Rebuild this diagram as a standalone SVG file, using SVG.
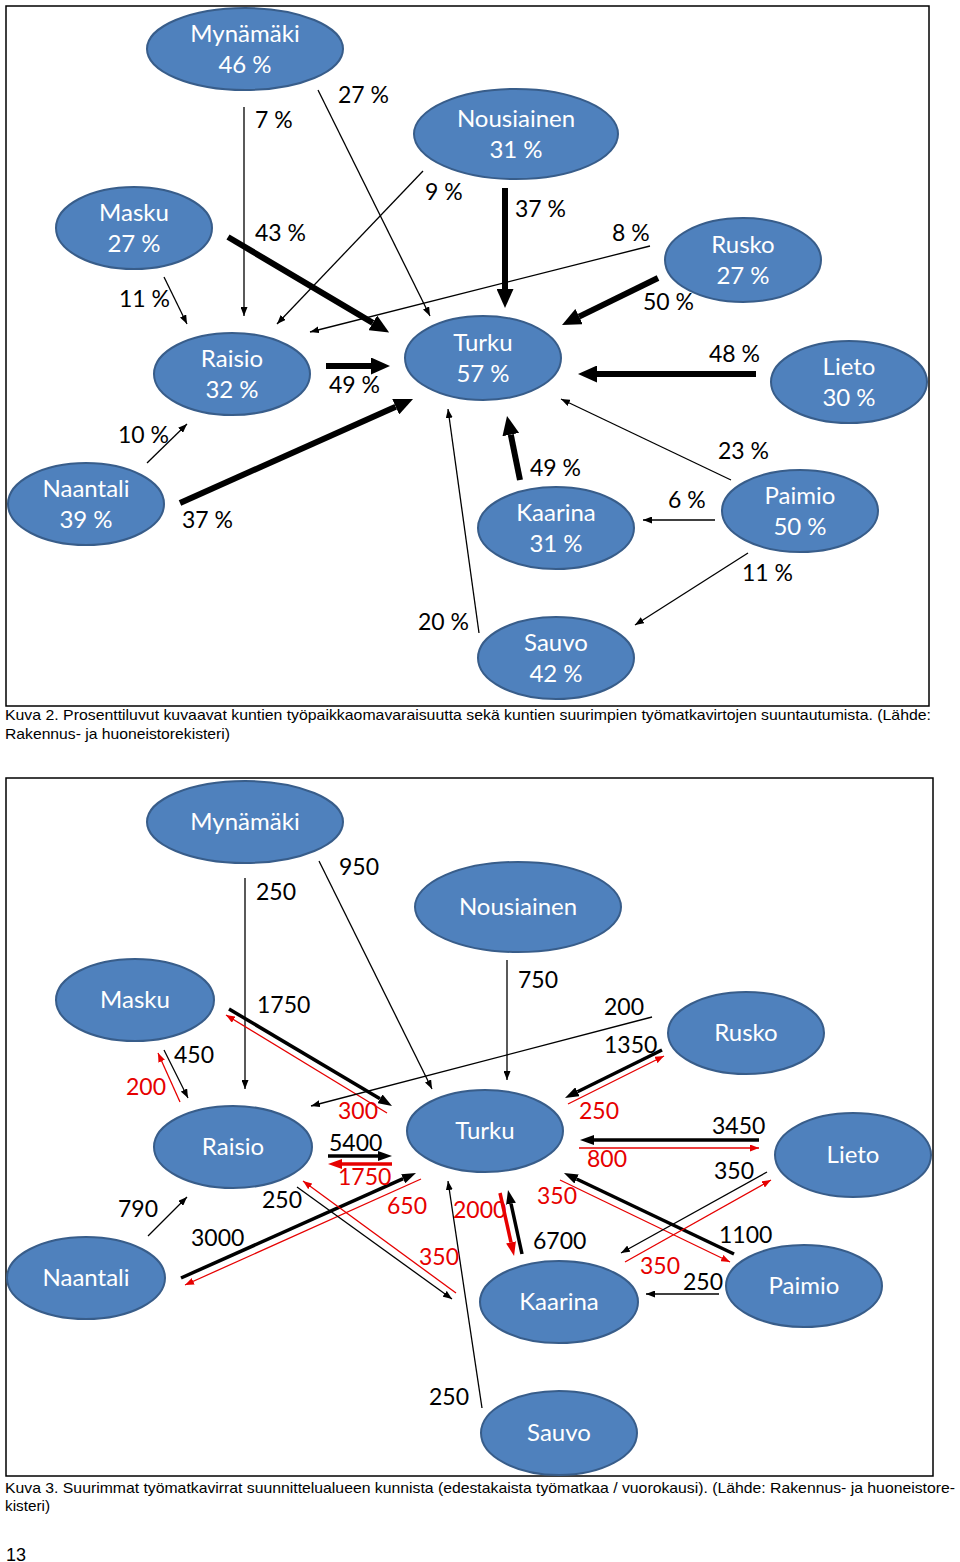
<svg xmlns="http://www.w3.org/2000/svg" width="960" height="1562" viewBox="0 0 960 1562">
<style>
.bg{fill:#fff}
.frame{fill:none;stroke:#000;stroke-width:1.5}
.node ellipse{fill:#4F81BD;stroke:#385D8A;stroke-width:2}
.node text{fill:#fff;font-family:Lato,"Open Sans",sans-serif;font-size:24px;text-anchor:middle}
.lbl{fill:#000;font-family:Lato,"Open Sans",sans-serif;font-size:23px}
.red{fill:#E60000}
.cap{fill:#000;font-family:"Liberation Sans",Arial,sans-serif;font-size:15px}
.thin{stroke:#000;stroke-width:1.3;fill:none;marker-end:url(#aThin)}
.thick{stroke:#000;stroke-width:6;fill:none;marker-end:url(#aThick)}
.med{stroke:#000;stroke-width:3.5;fill:none;marker-end:url(#aMed)}
.rthin{stroke:#E60000;stroke-width:1.3;fill:none;marker-end:url(#rThin)}
.rmed{stroke:#E60000;stroke-width:3.5;fill:none;marker-end:url(#rMed)}
.plain{stroke:#000;stroke-width:1.3;fill:none}
</style>
<defs>
<marker id="aThin" markerUnits="userSpaceOnUse" markerWidth="9" markerHeight="7" refX="9" refY="3.5" orient="auto"><path d="M0,0 L9,3.5 L0,7 z" fill="#000"/></marker>
<marker id="rThin" markerUnits="userSpaceOnUse" markerWidth="9" markerHeight="7" refX="9" refY="3.5" orient="auto"><path d="M0,0 L9,3.5 L0,7 z" fill="#E60000"/></marker>
<marker id="aThick" markerUnits="userSpaceOnUse" markerWidth="19" markerHeight="17" refX="0" refY="8.5" orient="auto"><path d="M0,0 L19,8.5 L0,17 z" fill="#000"/></marker>
<marker id="aMed" markerUnits="userSpaceOnUse" markerWidth="14" markerHeight="10" refX="0" refY="5" orient="auto"><path d="M0,0 L14,5 L0,10 z" fill="#000"/></marker>
<marker id="rMed" markerUnits="userSpaceOnUse" markerWidth="14" markerHeight="10" refX="0" refY="5" orient="auto"><path d="M0,0 L14,5 L0,10 z" fill="#E60000"/></marker>
</defs>
<rect class="bg" x="0" y="0" width="960" height="1562"/>
<rect class="frame" x="6" y="6" width="923" height="700"/>
<rect class="frame" x="6" y="778" width="927" height="698"/>

<!-- Top diagram connectors -->
<g id="connectors-top">
<line class="thin" x1="244" y1="107" x2="244" y2="316"/>
<line class="thin" x1="318" y1="90" x2="430" y2="316"/>
<line class="thin" x1="423" y1="171" x2="277" y2="324"/>
<line class="thick" x1="228" y1="237" x2="372.8" y2="322.8"/>
<line class="thin" x1="164" y1="277" x2="187" y2="324"/>
<line class="thin" x1="650" y1="246" x2="310" y2="332"/>
<line class="thick" x1="505" y1="188" x2="505" y2="289"/>
<line class="thick" x1="658" y1="278" x2="579.1" y2="316.6"/>
<line class="thick" x1="326" y1="366" x2="371" y2="366"/>
<line class="thick" x1="180" y1="503" x2="395.7" y2="406.7"/>
<line class="thin" x1="147" y1="463" x2="187" y2="424"/>
<line class="thin" x1="479" y1="633" x2="448" y2="409"/>
<line class="thick" x1="756" y1="374" x2="597" y2="374"/>
<line class="thin" x1="731" y1="480" x2="561" y2="399"/>
<line class="thick" x1="520" y1="480" x2="510.8" y2="434.6"/>
<line class="thin" x1="715" y1="520" x2="643" y2="520"/>
<line class="thin" x1="748" y1="553" x2="635" y2="625"/>
</g>

<g id="labels-top">
<text class="lbl" x="255" y="128">7 %</text>
<text class="lbl" x="338" y="103">27 %</text>
<text class="lbl" x="425" y="200">9 %</text>
<text class="lbl" x="255" y="241">43 %</text>
<text class="lbl" x="119" y="307">11 %</text>
<text class="lbl" x="515" y="217">37 %</text>
<text class="lbl" x="612" y="241">8 %</text>
<text class="lbl" x="643" y="310">50 %</text>
<text class="lbl" x="329" y="393">49 %</text>
<text class="lbl" x="118" y="443">10 %</text>
<text class="lbl" x="182" y="528">37 %</text>
<text class="lbl" x="418" y="630">20 %</text>
<text class="lbl" x="709" y="362">48 %</text>
<text class="lbl" x="718" y="459">23 %</text>
<text class="lbl" x="530" y="476">49 %</text>
<text class="lbl" x="668" y="508">6 %</text>
<text class="lbl" x="742" y="581">11 %</text>
</g>

<!-- Top nodes -->
<g id="t-mynamaki" class="node"><ellipse cx="245" cy="49" rx="98" ry="41"/><text x="245" y="42">Mynämäki</text><text x="245" y="73">46 %</text></g>
<g id="t-nousiainen" class="node"><ellipse cx="516" cy="134" rx="102" ry="45"/><text x="516" y="127">Nousiainen</text><text x="516" y="158">31 %</text></g>
<g id="t-masku" class="node"><ellipse cx="134" cy="228" rx="78" ry="41"/><text x="134" y="221">Masku</text><text x="134" y="252">27 %</text></g>
<g id="t-rusko" class="node"><ellipse cx="743" cy="260" rx="78" ry="42"/><text x="743" y="253">Rusko</text><text x="743" y="284">27 %</text></g>
<g id="t-raisio" class="node"><ellipse cx="232" cy="374" rx="78" ry="41"/><text x="232" y="367">Raisio</text><text x="232" y="398">32 %</text></g>
<g id="t-turku" class="node"><ellipse cx="483" cy="358" rx="78" ry="42"/><text x="483" y="351">Turku</text><text x="483" y="382">57 %</text></g>
<g id="t-lieto" class="node"><ellipse cx="849" cy="382" rx="78" ry="41"/><text x="849" y="375">Lieto</text><text x="849" y="406">30 %</text></g>
<g id="t-naantali" class="node"><ellipse cx="86" cy="504" rx="78" ry="41"/><text x="86" y="497">Naantali</text><text x="86" y="528">39 %</text></g>
<g id="t-kaarina" class="node"><ellipse cx="556" cy="528" rx="78" ry="41"/><text x="556" y="521">Kaarina</text><text x="556" y="552">31 %</text></g>
<g id="t-paimio" class="node"><ellipse cx="800" cy="511" rx="78" ry="41"/><text x="800" y="504">Paimio</text><text x="800" y="535">50 %</text></g>
<g id="t-sauvo" class="node"><ellipse cx="556" cy="658" rx="78" ry="41"/><text x="556" y="651">Sauvo</text><text x="556" y="682">42 %</text></g>

<text class="cap" x="5" y="720" textLength="926" lengthAdjust="spacingAndGlyphs">Kuva 2. Prosenttiluvut kuvaavat kuntien työpaikkaomavaraisuutta sekä kuntien suurimpien työmatkavirtojen suuntautumista. (Lähde:</text>
<text class="cap" x="5" y="739" textLength="225" lengthAdjust="spacingAndGlyphs">Rakennus- ja huoneistorekisteri)</text>

<!-- Bottom diagram connectors -->
<g id="connectors-bottom">
<line class="thin" x1="245" y1="878" x2="245" y2="1089"/>
<line class="thin" x1="319" y1="861" x2="432" y2="1089"/>
<line class="med" x1="229" y1="1009" x2="380" y2="1098.8"/>
<line class="rthin" x1="387" y1="1113" x2="226" y2="1015"/>
<line class="thin" x1="164" y1="1050" x2="188" y2="1098"/>
<line class="rthin" x1="180" y1="1102" x2="158" y2="1053"/>
<line class="thin" x1="652" y1="1017" x2="311" y2="1106"/>
<line class="thin" x1="507" y1="960" x2="507" y2="1080"/>
<line class="med" x1="662" y1="1050" x2="577.5" y2="1091.8"/>
<line class="rthin" x1="568" y1="1104" x2="664" y2="1056"/>
<line class="med" x1="328" y1="1156" x2="378" y2="1156"/>
<line class="rmed" x1="392" y1="1164" x2="342" y2="1164"/>
<line class="thin" x1="148" y1="1236" x2="187" y2="1197"/>
<line class="med" x1="181" y1="1278" x2="403.2" y2="1178.7"/>
<line class="rthin" x1="421" y1="1179" x2="185" y2="1285"/>
<line class="thin" x1="297" y1="1187" x2="452" y2="1299"/>
<line class="rthin" x1="456" y1="1293" x2="303" y2="1181"/>
<line class="rmed" x1="500" y1="1193" x2="511" y2="1242.3"/>
<line class="med" x1="522" y1="1254" x2="511" y2="1203.7"/>
<line class="med" x1="759" y1="1140" x2="594" y2="1140"/>
<line class="rthin" x1="579" y1="1148" x2="759" y2="1148"/>
<line class="med" x1="734" y1="1254" x2="576.6" y2="1179"/>
<line class="rthin" x1="560" y1="1180" x2="730" y2="1262"/>
<line class="thin" x1="767" y1="1172" x2="621" y2="1253"/>
<line class="rthin" x1="625" y1="1262" x2="771" y2="1180"/>
<line class="thin" x1="719" y1="1294" x2="646" y2="1294"/>
<line class="thin" x1="482" y1="1408" x2="448" y2="1181"/>
</g>

<g id="labels-bottom">
<text class="lbl" x="256" y="900">250</text>
<text class="lbl" x="339" y="875">950</text>
<text class="lbl" x="257" y="1013">1750</text>
<text class="lbl" x="174" y="1063">450</text>
<text class="lbl red" x="126" y="1095">200</text>
<text class="lbl red" x="338" y="1119">300</text>
<text class="lbl" x="518" y="988">750</text>
<text class="lbl" x="604" y="1015">200</text>
<text class="lbl" x="604" y="1053">1350</text>
<text class="lbl red" x="579" y="1119">250</text>
<text class="lbl" x="329" y="1151">5400</text>
<text class="lbl red" x="338" y="1185">1750</text>
<text class="lbl" x="118" y="1217">790</text>
<text class="lbl" x="262" y="1208">250</text>
<text class="lbl red" x="387" y="1214">650</text>
<text class="lbl" x="191" y="1246">3000</text>
<text class="lbl red" x="419" y="1265">350</text>
<text class="lbl red" x="453" y="1218">2000</text>
<text class="lbl" x="533" y="1249">6700</text>
<text class="lbl" x="712" y="1134">3450</text>
<text class="lbl red" x="587" y="1167">800</text>
<text class="lbl" x="714" y="1179">350</text>
<text class="lbl red" x="537" y="1204">350</text>
<text class="lbl" x="719" y="1243">1100</text>
<text class="lbl red" x="640" y="1274">350</text>
<text class="lbl" x="683" y="1290">250</text>
<text class="lbl" x="429" y="1405">250</text>
</g>

<!-- Bottom nodes -->
<g id="b-mynamaki" class="node"><ellipse cx="245" cy="822" rx="98" ry="41"/><text x="245" y="830">Mynämäki</text></g>
<g id="b-nousiainen" class="node"><ellipse cx="518" cy="907" rx="103" ry="45"/><text x="518" y="915">Nousiainen</text></g>
<g id="b-masku" class="node"><ellipse cx="135" cy="1000" rx="79" ry="41"/><text x="135" y="1008">Masku</text></g>
<g id="b-rusko" class="node"><ellipse cx="746" cy="1033" rx="78" ry="41"/><text x="746" y="1041">Rusko</text></g>
<g id="b-raisio" class="node"><ellipse cx="233" cy="1147" rx="79" ry="41"/><text x="233" y="1155">Raisio</text></g>
<g id="b-turku" class="node"><ellipse cx="485" cy="1131" rx="78" ry="41"/><text x="485" y="1139">Turku</text></g>
<g id="b-lieto" class="node"><ellipse cx="853" cy="1155" rx="78" ry="42"/><text x="853" y="1163">Lieto</text></g>
<g id="b-naantali" class="node"><ellipse cx="86" cy="1278" rx="79" ry="41"/><text x="86" y="1286">Naantali</text></g>
<g id="b-kaarina" class="node"><ellipse cx="559" cy="1302" rx="79" ry="41"/><text x="559" y="1310">Kaarina</text></g>
<g id="b-paimio" class="node"><ellipse cx="804" cy="1286" rx="78" ry="41"/><text x="804" y="1294">Paimio</text></g>
<g id="b-sauvo" class="node"><ellipse cx="559" cy="1433" rx="78" ry="42"/><text x="559" y="1441">Sauvo</text></g>

<text class="cap" x="5" y="1493" textLength="950" lengthAdjust="spacingAndGlyphs">Kuva 3. Suurimmat työmatkavirrat suunnittelualueen kunnista (edestakaista työmatkaa / vuorokausi). (Lähde: Rakennus- ja huoneistore-</text>
<text class="cap" x="5" y="1511" textLength="45" lengthAdjust="spacingAndGlyphs">kisteri)</text>
<text class="cap" x="6" y="1561" style="font-size:18px">13</text>
</svg>
